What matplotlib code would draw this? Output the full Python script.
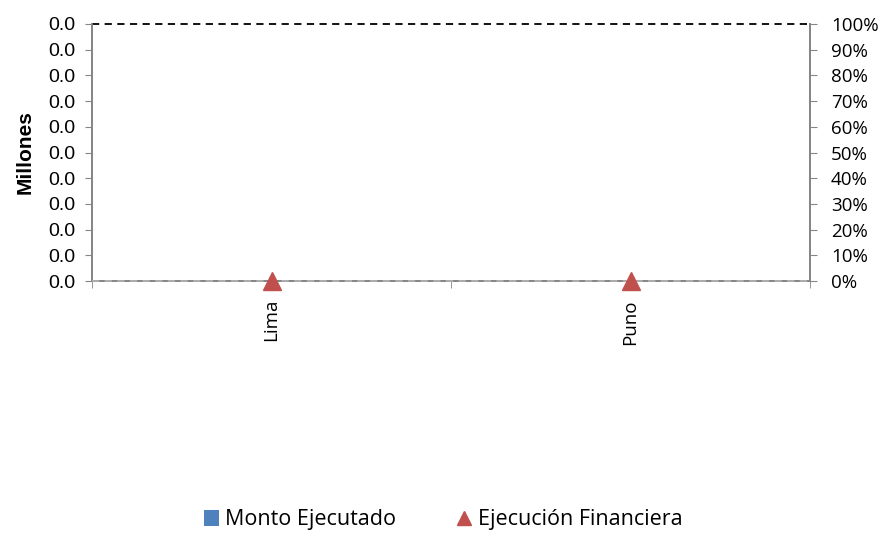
import numpy as np
import matplotlib
matplotlib.use("Agg")
import matplotlib.pyplot as plt
from matplotlib.ticker import FuncFormatter, PercentFormatter

plt.rcParams["font.family"] = ["Open Sans", "DejaVu Sans"]

# data
regiones = ["Lima", "Puno"]
monto_ejecutado = [0.0, 0.0]          # soles
ejecucion_financiera = [0.0, 0.0]     # fraction

BLUE, RED, GRAY = "#4F81BD", "#C0504D", "#868686"

fig = plt.figure(figsize=(8.86, 5.34), dpi=100)
ax = fig.add_axes([92/886, 1-281/534, (810-92)/886, (281-24)/534])
ax2 = ax.twinx()

x = np.arange(len(regiones))
ax.bar(x, monto_ejecutado, width=0.5, color=BLUE, label="Monto Ejecutado")
ax2.plot(x, ejecucion_financiera, ls="none", marker="^", ms=13, color=RED,
         label="Ejecución Financiera", clip_on=False, zorder=5)

ax.set_xlim(-0.5, len(regiones) - 0.5)
ax.set_ylim(0, 10)
ax.set_yticks(np.arange(0, 11, 1))
ax.yaxis.set_major_formatter(FuncFormatter(lambda v, p: f"{v/1e6:.1f}"))
ax2.set_ylim(0, 1)
ax2.set_yticks(np.arange(0, 1.01, 0.1))
ax2.yaxis.set_major_formatter(PercentFormatter(1.0, decimals=0))

ax.set_xticks(x)
ax.set_xticklabels(regiones, rotation=90, fontsize=13.5)
ax.set_xticks(np.arange(-0.5, len(regiones)), minor=True)
ax.tick_params(axis="x", which="major", length=0, pad=13)
ax.tick_params(axis="x", which="minor", length=5, color=GRAY, direction="out")
ax.tick_params(axis="y", length=5, color=GRAY, labelsize=14, pad=7)
ax2.tick_params(axis="y", length=5, color=GRAY, labelsize=13.5, pad=10)
for t in ax.get_yticklabels():
    t.set_fontfamily("Liberation Sans")

for a in (ax, ax2):
    a.spines["top"].set_visible(False)
    for s in ("left", "right", "bottom"):
        a.spines[s].set_color(GRAY)
        a.spines[s].set_linewidth(1.3)

# dashed lines at top and bottom
ax2.axhline(1.0, color="black", ls=(0, (4, 3)), lw=1.3, clip_on=False)
ax2.axhline(0.0, color="#B0B0B0", ls=(0, (4, 3)), lw=1.3, clip_on=False, zorder=4)

ax.set_ylabel("Millones", fontsize=15, fontweight="bold", family="Liberation Sans", labelpad=10)

h1, l1 = ax.get_legend_handles_labels()
h2, l2 = ax2.get_legend_handles_labels()
fig.legend(h1 + h2, l1 + l2, loc="center", bbox_to_anchor=(0.5, 1-520/534), ncol=2,
           frameon=False, fontsize=15.5, handlelength=0.7, handletextpad=0.3,
           columnspacing=2.8, markerscale=0.75)

fig.savefig("out.png", dpi=100)
